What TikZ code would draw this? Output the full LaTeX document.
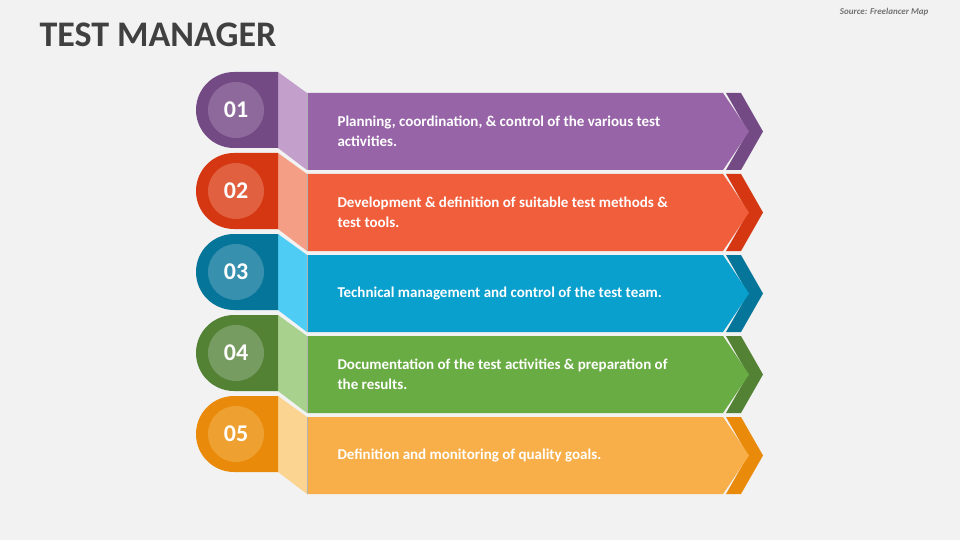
\documentclass[tikz,border=0pt]{standalone}
\usepackage{fontspec}
\setmainfont{Carlito}
\begin{document}
\begin{tikzpicture}[x=1pt,y=-1pt,
  txt/.style={anchor=west,text=white,font=\fontsize{15}{19.5}\selectfont\bfseries,align=left},
  num/.style={text=white,font=\fontsize{24}{26}\selectfont\bfseries}]
\definecolor{bg}{HTML}{F2F2F2}
\fill[bg] (0,0) rectangle (960,540);
\node[anchor=west,text=black!75,font=\fontsize{36}{38}\selectfont\bfseries] (title) at (36,35) {TEST MANAGER};
\node[anchor=east,text=black!55,font=\fontsize{9}{10}\selectfont\bfseries\itshape] (src) at (932,12) {Source: Freelancer Map};
\foreach \i/\dk/\mn/\lt/\cc/\t in {
 0/744A85/9764A8/C39FCB/8E6A9C/{Planning, coordination, \& control of the various test\\activities.},
 1/D43711/F15E3C/F59E86/E0603F/{Development \& definition of suitable test methods \&\\test tools.},
 2/06759A/0AA0CE/4FCCF3/3790AE/{Technical management and control of the test team.},
 3/548235/6AAC44/A9D18E/779C62/{Documentation of the test activities \& preparation of\\the results.},
 4/E98A0B/F8AF4A/FCD491/EEA031/{Definition and monitoring of quality goals.}}{
 \begin{scope}[yshift={-81*\i}]
 \definecolor{dk}{HTML}{\dk}\definecolor{mn}{HTML}{\mn}\definecolor{lt}{HTML}{\lt}\definecolor{cc}{HTML}{\cc}
 \fill[dk] (726,93) -- (741,93) -- (763,131.5) -- (741,170) -- (726,170) -- (748,131.5) -- cycle;
 \fill[lt] (278,72) -- (307,93) -- (307,170) -- (278,148) -- cycle;
 \fill[dk] (278,72) -- (234,72) arc[start angle=270,end angle=90,radius=38] -- (278,148) -- cycle;
 \fill[cc] (236,110) circle[radius=28];
 \node[num] (n\i) at (236,110) {0\the\numexpr\i+1\relax};
 \fill[mn] (307,93) -- (723,93) -- (749,131.5) -- (723,170) -- (307,170) -- cycle;
 \draw[black!30,line width=1.2pt] (307.6,93) -- (307.6,170);
 \node[txt] (t\i) at (334,131.5) {\t};
 \end{scope}}
\end{tikzpicture}
\end{document}
